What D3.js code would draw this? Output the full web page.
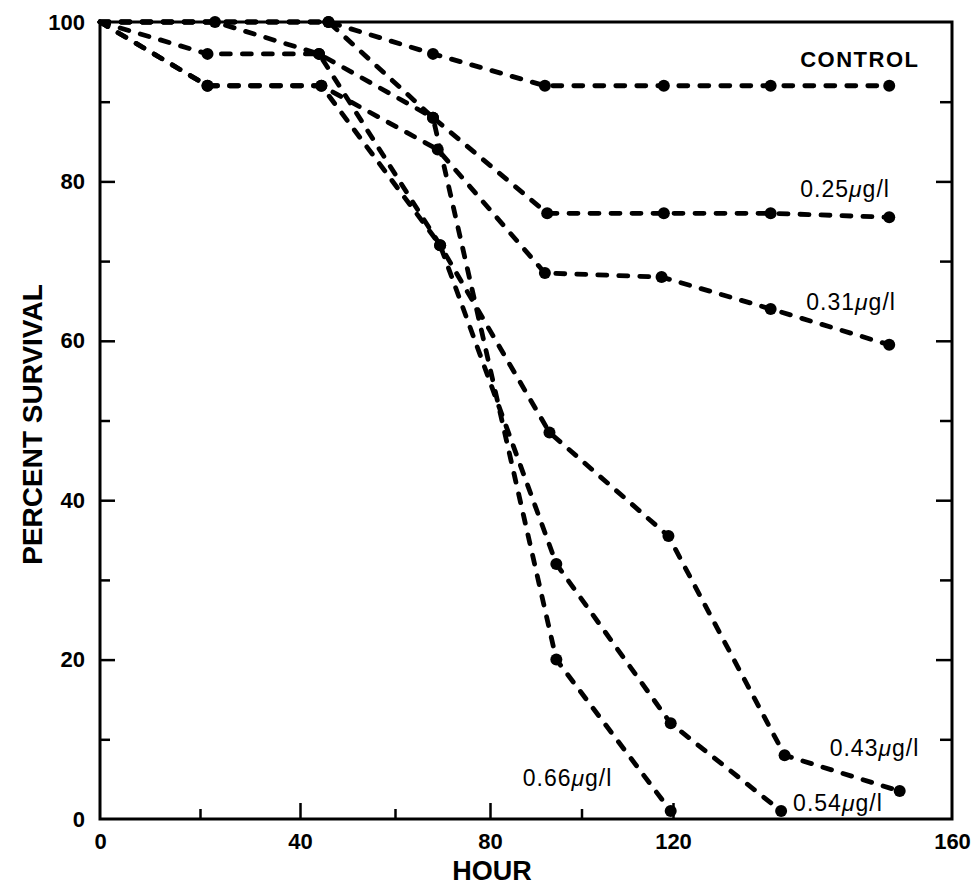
<!DOCTYPE html>
<html>
<head>
<meta charset="utf-8">
<script src="https://cdn.jsdelivr.net/npm/d3@7"></script>
<style>
  html, body { margin: 0; padding: 0; background: #fff; }
  svg { display: block; }
  text { font-family: "Liberation Sans", Arial, Helvetica, sans-serif; fill: #000; }
</style>
</head>
<body>
<svg id="chart" width="971" height="885"></svg>
<script>
// Percent survival against exposure time (hours) for each group
const controlPoints = [[0, 100], [46, 100], [68, 96], [92, 92], [118, 92], [134, 92], [151, 92]];
const conc025Points = [[0, 100], [21.5, 96], [44, 96], [68, 88], [92.5, 76], [118, 76], [134, 76], [151, 75.5]];
const conc031Points = [[0, 100], [21.5, 92], [44.5, 92], [69, 84], [92, 68.5], [117.5, 68], [134, 64], [151, 59.5]];
const conc043Points = [[0, 100], [23, 100], [44, 96], [69.5, 72], [93, 48.5], [119, 35.5], [136, 8], [152.5, 3.5]];
const conc054Points = [[0, 100], [21.5, 92], [44.5, 92], [69.5, 72], [94.5, 32], [119.5, 12], [135.5, 1]];
const conc066Points = [[0, 100], [46, 100], [68, 88], [94.5, 20], [119.5, 1]];

const seriesNames = ["CONTROL", "0.25", "0.31", "0.43", "0.54", "0.66"];
const seriesPoints = [controlPoints, conc025Points, conc031Points, conc043Points, conc054Points, conc066Points];

const xTickLabels = [0, 40, 80, 120, 160];
const xMinorTicks = [20, 60, 100];
const yTickLabels = [0, 20, 40, 60, 80, 100];
const yMinorTicks = [10, 30, 50, 70, 90];

const xTitle = "HOUR";
const yTitle = "PERCENT SURVIVAL";
const unitText = "g/l";

// ---- layout ----
const margin = { left: 100, top: 22, right: 19, bottom: 66 };
const W = 971, H = 885;
const w = W - margin.left - margin.right;   // 852
const h = H - margin.top - margin.bottom;   // 797

const svg = d3.select("#chart");
const g = svg.append("g").attr("transform", `translate(${margin.left},${margin.top})`);

// The printed hour axis is not evenly spaced; the final segment (120-160) is stretched
const x = d3.scaleLinear()
  .domain([0, 40, 80, 120, 160])
  .range([0, 200, 390, 573, w]);
const y = d3.scaleLinear().domain([0, 100]).range([h, 0]);

// ---- frame ----
g.append("rect")
  .attr("x", 0).attr("y", 0).attr("width", w).attr("height", h)
  .attr("fill", "none").attr("stroke", "#000").attr("stroke-width", 3);

function styleAxis(sel) {
  sel.select(".domain").remove();
  sel.selectAll(".tick line").attr("stroke", "#000").attr("stroke-width", 2.5);
  sel.selectAll("text")
    .attr("font-size", 22).attr("font-weight", "bold")
    .attr("font-family", '"Liberation Sans", Arial, sans-serif');
}

// left axis: labels + inward ticks
g.append("g")
  .call(d3.axisLeft(y).tickValues(yTickLabels).tickSize(0).tickPadding(15).tickFormat(d3.format("d")))
  .call(styleAxis);
g.append("g")
  .call(d3.axisRight(y).tickValues(yTickLabels.filter(v => v > 0 && v < 100)).tickSize(15).tickFormat(""))
  .call(styleAxis);
g.append("g")
  .call(d3.axisRight(y).tickValues(yMinorTicks).tickSize(10).tickFormat(""))
  .call(styleAxis);

// right axis: inward ticks only
g.append("g").attr("transform", `translate(${w},0)`)
  .call(d3.axisLeft(y).tickValues(yTickLabels.filter(v => v > 0 && v < 100)).tickSize(16).tickFormat(""))
  .call(styleAxis);
g.append("g").attr("transform", `translate(${w},0)`)
  .call(d3.axisLeft(y).tickValues(yMinorTicks).tickSize(12).tickFormat(""))
  .call(styleAxis);

// bottom axis: labels + inward ticks
g.append("g").attr("transform", `translate(0,${h})`)
  .call(d3.axisBottom(x).tickValues(xTickLabels).tickSize(0).tickPadding(14).tickFormat(d3.format("d")))
  .call(styleAxis);
g.append("g").attr("transform", `translate(0,${h})`)
  .call(d3.axisTop(x).tickValues(xTickLabels.filter(v => v > 0 && v < 160)).tickSize(16).tickFormat(""))
  .call(styleAxis);
g.append("g").attr("transform", `translate(0,${h})`)
  .call(d3.axisTop(x).tickValues(xMinorTicks).tickSize(10).tickFormat(""))
  .call(styleAxis);

// ---- axis titles ----
svg.append("text")
  .attr("x", margin.left + x(80) + 2).attr("y", 880)
  .attr("text-anchor", "middle")
  .attr("font-size", 27).attr("font-weight", "bold")
  .text(xTitle);

svg.append("text")
  .attr("transform", `translate(42,${margin.top + h / 2 + 4}) rotate(-90)`)
  .attr("text-anchor", "middle")
  .attr("font-size", 28).attr("font-weight", "bold")
  .text(yTitle);

// ---- series ----
const line = d3.line().x(d => x(d[0])).y(d => y(d[1]));

seriesPoints.forEach(pts => {
  g.append("path")
    .datum(pts)
    .attr("d", line)
    .attr("fill", "none")
    .attr("stroke", "#000")
    .attr("stroke-width", 4.8)
    .attr("stroke-linecap", "round")
    .attr("stroke-linejoin", "round")
    .attr("stroke-dasharray", "9,12");

  g.append("g").selectAll("circle")
    .data(pts.slice(1))
    .join("circle")
    .attr("cx", d => x(d[0]))
    .attr("cy", d => y(d[1]))
    .attr("r", 6)
    .attr("fill", "#000");
});

// ---- series labels, placed relative to each series' last point ----
const labelPlacement = {
  "CONTROL": { dx: -89, dy: -19 },
  "0.25": { dx: -89, dy: -20 },
  "0.31": { dx: -83, dy: -35 },
  "0.43": { dx: -70, dy: -35 },
  "0.54": { dx: 12, dy: 0 },
  "0.66": { dx: -148, dy: -25 }
};

seriesNames.forEach((name, i) => {
  const pts = seriesPoints[i];
  const last = pts[pts.length - 1];
  const p = labelPlacement[name];
  const t = g.append("text")
    .attr("x", x(last[0]) + p.dx)
    .attr("y", y(last[1]) + p.dy)
    .attr("font-size", 23);
  if (name === "CONTROL") {
    t.attr("font-size", 22).attr("font-weight", "bold").attr("letter-spacing", 1.5).text(name);
  } else {
    t.attr("letter-spacing", 1);
    t.append("tspan").text(name);
    t.append("tspan").attr("font-style", "italic").text("\u03bc");
    t.append("tspan").text(unitText);
  }
});
</script>
</body>
</html>
